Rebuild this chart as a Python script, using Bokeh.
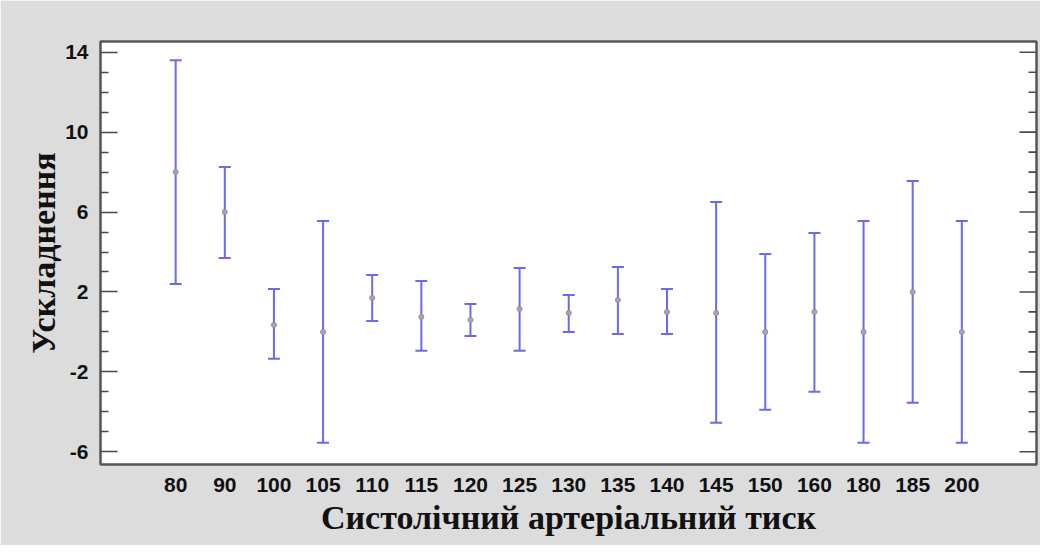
import math
from bokeh.plotting import figure
from bokeh.models import (ColumnDataSource, Range1d, FixedTicker,
                          Whisker, TeeHead)
from bokeh.embed import file_html
from bokeh.resources import INLINE

# ---- data ----
labels = ["80", "90", "100", "105", "110", "115", "120", "125", "130",
          "135", "140", "145", "150", "160", "180", "185", "200"]
means = [8.0, 6.0, 0.35, 0.0, 1.7, 0.75, 0.6, 1.15, 0.95,
         1.6, 1.0, 0.95, 0.0, 1.0, 0.0, 2.0, 0.0]
lower = [2.4, 3.7, -1.35, -5.55, 0.55, -0.95, -0.2, -0.95, 0.0,
         -0.1, -0.1, -4.55, -3.9, -3.0, -5.55, -3.55, -5.55]
upper = [13.6, 8.25, 2.15, 5.55, 2.85, 2.55, 1.4, 3.2, 1.85,
         3.25, 2.15, 6.5, 3.9, 4.95, 5.55, 7.55, 5.55]
y_ticks = [-6, -2, 2, 6, 10, 14]
y_minor = [v for v in range(-6, 15) if v not in y_ticks]

x_start, x_end = -1.53, 17.52
y_start, y_end = -6.64, 14.54

xs = list(range(len(labels)))
src = ColumnDataSource(dict(x=xs, mean=means, lower=lower, upper=upper))

p = figure(width=1040, height=545, output_backend="svg", toolbar_location=None,
           x_range=Range1d(x_start, x_end), y_range=Range1d(y_start, y_end),
           min_border_left=100, min_border_top=41, min_border_right=4,
           min_border_bottom=81, background_fill_color="white",
           border_fill_color="#dcdcdc")
p.grid.visible = False
p.outline_line_color = "#555555"
p.outline_line_width = 2.5

bar_color = "#6a6aef"
wh = Whisker(base="x", upper="upper", lower="lower", source=src,
             line_color=bar_color, line_width=2,
             upper_head=TeeHead(size=12, line_color=bar_color, line_width=2),
             lower_head=TeeHead(size=12, line_color=bar_color, line_width=2))
p.add_layout(wh)
p.scatter("x", "mean", source=src, size=5, fill_color="#a8a8a8",
          line_color="#909090", line_width=1)

# inward ticks on the right frame edge
tick_col = "#4a4a4a"
p.ray(x=[x_end] * len(y_ticks), y=y_ticks, length=17, length_units="screen",
      angle=math.pi, line_color=tick_col, line_width=1.6)
p.ray(x=[x_end] * len(y_minor), y=y_minor, length=8, length_units="screen",
      angle=math.pi, line_color=tick_col, line_width=1.6)

ya = p.yaxis[0]
ya.ticker = FixedTicker(ticks=y_ticks, minor_ticks=y_minor)
ya.major_label_overrides = {t: str(t) for t in y_ticks}
ya.axis_line_color = None
ya.major_tick_in = 17
ya.major_tick_out = 0
ya.minor_tick_in = 8
ya.minor_tick_out = 0
ya.major_tick_line_color = tick_col
ya.major_tick_line_width = 1.6
ya.minor_tick_line_color = tick_col
ya.minor_tick_line_width = 1.6
ya.major_label_standoff = 12
ya.major_label_text_font = "Liberation Sans"
ya.major_label_text_font_style = "bold"
ya.major_label_text_font_size = "21px"
ya.major_label_text_color = "#111111"
ya.axis_label = "Ускладнення"
ya.axis_label_text_font = "Liberation Serif"
ya.axis_label_text_font_style = "bold"
ya.axis_label_text_font_size = "34px"
ya.axis_label_text_color = "#111111"
ya.axis_label_standoff = 0

xa = p.xaxis[0]
xa.ticker = FixedTicker(ticks=xs)
xa.major_label_overrides = {i: l for i, l in enumerate(labels)}
xa.axis_line_color = None
xa.major_tick_line_color = None
xa.minor_tick_line_color = None
xa.major_label_standoff = 7
xa.major_label_text_font = "Liberation Sans"
xa.major_label_text_font_style = "bold"
xa.major_label_text_font_size = "21px"
xa.major_label_text_color = "#111111"
xa.axis_label = "Систолічний артеріальний тиск"
xa.axis_label_text_font = "Liberation Serif"
xa.axis_label_text_font_style = "bold"
xa.axis_label_text_font_size = "34px"
xa.axis_label_text_color = "#111111"
xa.axis_label_standoff = 4

open("out.html", "w").write(file_html(p, INLINE))
